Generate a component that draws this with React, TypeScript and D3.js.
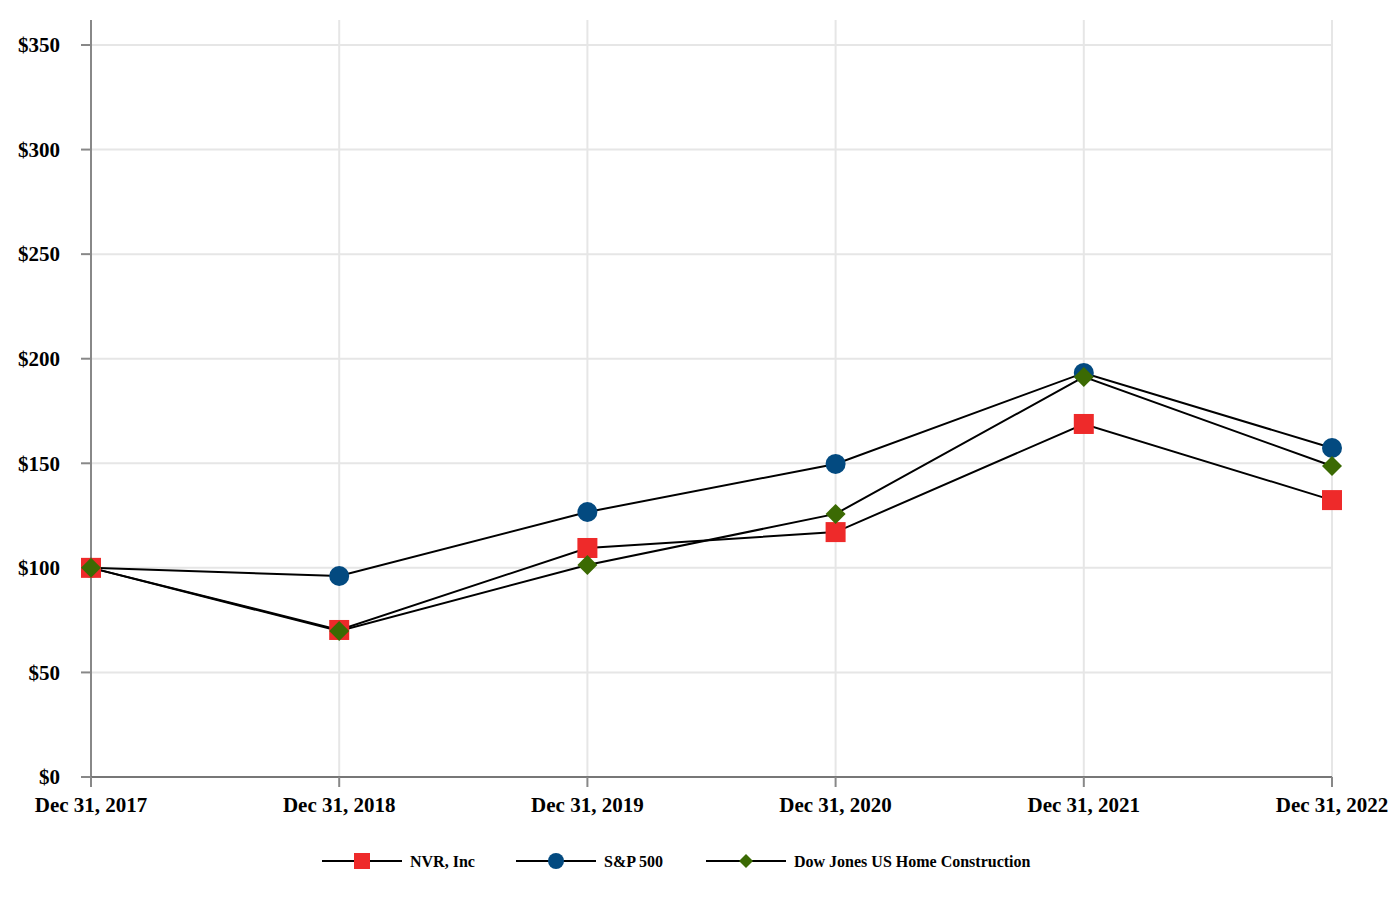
import React from 'react';
import * as d3 from 'd3';

const years = ['Dec 31, 2017', 'Dec 31, 2018', 'Dec 31, 2019', 'Dec 31, 2020', 'Dec 31, 2021', 'Dec 31, 2022'];
const nvrValues = [100, 70.3, 109.5, 117.1, 168.8, 132.4];
const spValues = [100, 96.1, 126.7, 149.7, 193.2, 157.3];
const djValues = [100, 69.8, 101.4, 125.8, 191.3, 148.7];
const yTicks = [0, 50, 100, 150, 200, 250, 300, 350];

const series = [
  { key: 'S&P 500', values: spValues, color: '#034A80', shape: 'circle' },
  { key: 'NVR, Inc', values: nvrValues, color: '#EE2A2A', shape: 'square' },
  { key: 'Dow Jones US Home Construction', values: djValues, color: '#3B6A03', shape: 'diamond' }
];
const legendOrder = ['NVR, Inc', 'S&P 500', 'Dow Jones US Home Construction'];

const width = 1400;
const height = 900;
const margin = { top: 20, right: 68, bottom: 123, left: 91 };

const Marker = ({ shape, x, y, color, size }: any) => {
  if (shape === 'circle') return <circle cx={x} cy={y} r={size / 2} fill={color} />;
  if (shape === 'square') return <rect x={x - size / 2} y={y - size / 2} width={size} height={size} fill={color} />;
  const h = size / 2;
  return <path d={`M${x},${y - h}L${x + h},${y}L${x},${y + h}L${x - h},${y}Z`} fill={color} />;
};

const App = () => {
  const xScale = d3.scalePoint<string>()
    .domain(years)
    .range([margin.left, width - margin.right]);

  const yScale = d3.scaleLinear()
    .domain([0, 350])
    .range([height - margin.bottom, 45]);

  const line = d3.line<number>()
    .x((_, i) => xScale(years[i]) as number)
    .y(d => yScale(d));

  const bottom = height - margin.bottom;
  const right = width - margin.right;
  const font = '"Liberation Serif", "Times New Roman", serif';

  const legendX = [322, 516, 706];

  return (
    <svg width={width} height={height} style={{ position: 'absolute', left: 0, top: 0 }} fontFamily={font} fontWeight="bold">
      <rect width={width} height={height} fill="#fff" />
      {/* gridlines */}
      {yTicks.map(t => (
        <line key={'h' + t} x1={margin.left} x2={right} y1={yScale(t)} y2={yScale(t)} stroke="#e6e6e6" strokeWidth={2} />
      ))}
      {years.map(y => (
        <line key={'v' + y} x1={xScale(y)} x2={xScale(y)} y1={margin.top} y2={bottom} stroke="#e6e6e6" strokeWidth={2} />
      ))}
      {/* axes */}
      <line x1={margin.left} x2={margin.left} y1={margin.top} y2={bottom} stroke="#888" strokeWidth={2} />
      <line x1={margin.left} x2={right} y1={bottom} y2={bottom} stroke="#777" strokeWidth={2} />
      {yTicks.map(t => (
        <g key={'yt' + t}>
          <line x1={margin.left - 10} x2={margin.left} y1={yScale(t)} y2={yScale(t)} stroke="#888" strokeWidth={2} />
          <text x={60} y={yScale(t)} dy="0.35em" textAnchor="end" fontSize={21}>${t}</text>
        </g>
      ))}
      {years.map(y => (
        <g key={'xt' + y}>
          <line x1={xScale(y)} x2={xScale(y)} y1={bottom} y2={bottom + 10} stroke="#888" strokeWidth={2} />
          <text x={xScale(y)} y={bottom + 35} textAnchor="middle" fontSize={21}>{y}</text>
        </g>
      ))}
      {/* lines */}
      {series.map(s => (
        <path key={'l' + s.key} d={line(s.values) as string} fill="none" stroke="#000" strokeWidth={2} />
      ))}
      {/* markers */}
      {series.map(s => (
        <g key={'m' + s.key}>
          {s.values.map((v, i) => (
            <Marker key={i} shape={s.shape} x={xScale(years[i])} y={yScale(v)} color={s.color}
              size={20} />
          ))}
        </g>
      ))}
      {/* legend */}
      {legendOrder.map((k, i) => {
        const s = series.find(d => d.key === k)!;
        const lx = legendX[i];
        const ly = 861;
        return (
          <g key={'lg' + k}>
            <line x1={lx} x2={lx + 80} y1={ly} y2={ly} stroke="#000" strokeWidth={2} />
            <Marker shape={s.shape} x={lx + 40} y={ly} color={s.color} size={s.shape === 'diamond' ? 14 : 16} />
            <text x={lx + 88} y={ly} dy="0.35em" fontSize={16}>{k}</text>
          </g>
        );
      })}
    </svg>
  );
};

export default App;
